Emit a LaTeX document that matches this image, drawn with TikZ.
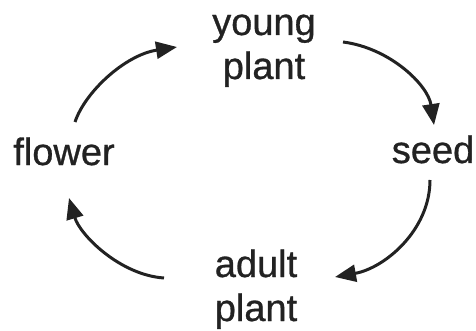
\documentclass[tikz,border=0pt]{standalone}
\usepackage{fontspec}
\setmainfont{Liberation Sans}
\newfontfamily\lblfont{Liberation Sans}[FakeBold=0.8]
\usetikzlibrary{arrows.meta}
\definecolor{ink}{HTML}{222222}
\tikzset{
  lbl/.style={inner sep=0pt, anchor=base, text=ink, font=\lblfont\fontsize{38}{44}\selectfont},
  cyc/.style={draw=ink, line width=3pt, -{Triangle[length=21pt,width=17pt]}}
}
\begin{document}
\begin{tikzpicture}[x=1pt,y=-1pt]
\useasboundingbox (0,0) rectangle (476,331);
\setlength{\tabcolsep}{0pt}
\node[lbl] (young) at (264,35) {\begin{tabular}[t]{c}young\\plant\end{tabular}};
\node[lbl] (seed) at (433,163) {seed};
\node[lbl] (flower) at (64,165) {flower};
\node[lbl] (adult) at (256,277) {\begin{tabular}[t]{c}adult\\plant\end{tabular}};
\coordinate (c1) at (75,122);
\coordinate (c2) at (177,47);
\coordinate (c3) at (343,42);
\coordinate (c4) at (434,125);
\coordinate (c5) at (430,180);
\coordinate (c6) at (335,277);
\coordinate (c7) at (164,278);
\coordinate (c8) at (69,198);
\draw[cyc] (c1) .. controls (85,92) and (125,55) .. (c2);
\draw[cyc] (c3) .. controls (390,48) and (428,85) .. (c4);
\draw[cyc] (c5) .. controls (430,230) and (385,268) .. (c6);
\draw[cyc] (c7) .. controls (120,275) and (80,235) .. (c8);
\end{tikzpicture}
\end{document}
